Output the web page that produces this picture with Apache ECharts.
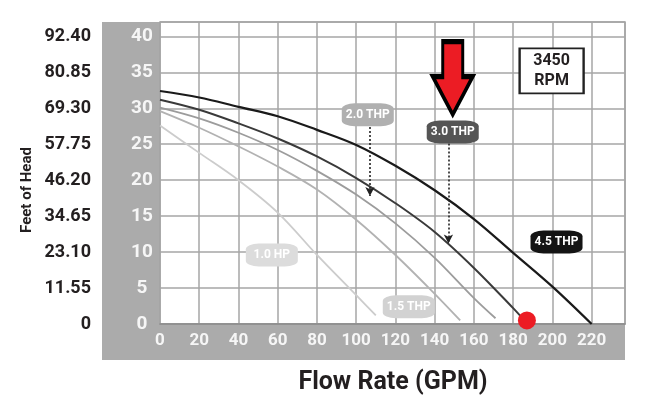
<!DOCTYPE html>
<html>
<head>
<meta charset="utf-8">
<script src="https://cdn.jsdelivr.net/npm/echarts@6/dist/echarts.min.js"></script>
<style>
html, body { margin: 0; padding: 0; background: #fff; }
#chart { width: 665px; height: 407px; }
</style>
</head>
<body>
<div id="chart"></div>
<script>
// pump curves, flow (GPM) vs feet of head
const flow45 = [0, 20, 40, 60, 80, 100, 120, 140, 160, 180, 200, 220]
const head45 = [32.4, 31.5, 30.2, 28.9, 27.0, 24.9, 22.0, 18.6, 14.6, 9.9, 5.2, 0]
const flow30 = [0, 20, 40, 60, 80, 100, 120, 140, 160, 180, 186]
const head30 = [31.2, 29.8, 27.9, 25.8, 23.3, 20.3, 16.8, 12.8, 7.8, 2.2, 0.4]
const flow20 = [0, 20, 40, 60, 80, 100, 120, 140, 160, 171]
const head20 = [30.1, 28.6, 26.6, 24.2, 21.3, 18.0, 14.0, 9.2, 3.6, 0.8]
const flow15 = [0, 20, 40, 60, 80, 100, 120, 140, 153]
const head15 = [29.6, 27.3, 24.7, 21.9, 18.7, 14.5, 9.6, 4.2, 0.5]
const flow10 = [0, 20, 40, 60, 80, 100, 110]
const head10 = [27.6, 23.8, 20.0, 15.5, 9.6, 4.0, 1.2]

const flowTicks = ['0', '20', '40', '60', '80', '100', '120', '140', '160', '180', '200', '220']
const headTicks = ['0', '5', '10', '15', '20', '25', '30', '35', '40']
const otherTicks = ['0', '11.55', '23.10', '34.65', '46.20', '57.75', '69.30', '80.85', '92.40']

const curveNames = ['1.0 HP', '1.5 THP', '2.0 THP', '3.0 THP', '4.5 THP']
const operatingPoint = [187, 0.5]

const font = "Roboto, 'Liberation Sans', sans-serif"

function pairs(xs, ys) {
    return xs.map((x, i) => [x, ys[i]])
}

function badge(coord, text, bg) {
    return {
        coord: coord,
        symbol: 'roundRect',
        symbolSize: [52, 23],
        itemStyle: { color: bg },
        label: {
            show: true,
            position: 'inside',
            formatter: text,
            color: '#fff',
            fontFamily: font,
            fontWeight: 'bold',
            fontSize: 12
        }
    }
}

function curve(name, data, color, width, extra) {
    return Object.assign({
        name: name,
        type: 'line',
        smooth: 0.35,
        showSymbol: false,
        silent: true,
        lineStyle: { color: color, width: width },
        data: data
    }, extra || {})
}

const chart = echarts.init(document.getElementById('chart'))
const dotted = { type: [2, 2], color: '#222', width: 1.6 }

chart.setOption({
    animation: false,
    backgroundColor: '#fff',
    graphic: [
        {
            type: 'rect', z: -10,
            shape: { x: 102, y: 22, width: 523, height: 338 },
            style: { fill: '#ababab' }
        },
        {
            type: 'text', x: 27, y: 190, rotation: Math.PI / 2,
            style: {
                text: 'Feet of Head', fill: '#231f20', font: 'bold 15px ' + font,
                align: 'center', verticalAlign: 'middle'
            }
        },
        {
            type: 'text', x: 393, y: 383,
            style: {
                text: 'Flow Rate (GPM)', fill: '#231f20', font: 'bold 25px ' + font,
                align: 'center', verticalAlign: 'middle'
            }
        }
    ],
    grid: {
        left: 160, top: 22, right: 40, bottom: 83,
        show: true, backgroundColor: '#fff', borderColor: '#a0a0a0', borderWidth: 1.5
    },
    xAxis: {
        type: 'value', min: 0, max: 237, interval: 20,
        axisLine: { show: true, lineStyle: { color: '#8a8a8a', width: 1.5 } },
        axisTick: { show: false },
        splitLine: { lineStyle: { color: '#a6a6a6', width: 1.5 } },
        axisLabel: {
            showMaxLabel: false, margin: 8,
            color: '#f6f6f6', fontFamily: font, fontWeight: 'bold', fontSize: 17,
            formatter: v => flowTicks[v / 20] ?? ''
        }
    },
    yAxis: [
        {
            type: 'value', min: 0, max: 42, interval: 5,
            axisLine: { show: false },
            axisTick: { show: false },
            splitLine: { lineStyle: { color: '#a6a6a6', width: 1.5 } },
            axisLabel: {
                showMaxLabel: false, margin: 18, align: 'center',
                color: '#f6f6f6', fontFamily: font, fontWeight: 'bold', fontSize: 19,
                formatter: v => headTicks[v / 5] ?? ''
            }
        },
        {
            type: 'value', min: 0, max: 42, interval: 5, position: 'left', offset: 69,
            axisLine: { show: false },
            axisTick: { show: false },
            splitLine: { show: false },
            axisLabel: {
                showMaxLabel: false, margin: 0,
                color: '#231f20', fontFamily: font, fontWeight: 'bold', fontSize: 18,
                formatter: v => otherTicks[v / 5] ?? ''
            }
        }
    ],
    series: [
        curve(curveNames[0], pairs(flow10, head10), '#cccccc', 1.8, {
            markPoint: { silent: true, data: [badge([57, 9.6], curveNames[0], '#dcdcdc')] }
        }),
        curve(curveNames[1], pairs(flow15, head15), '#b2b2b2', 1.8, {
            markPoint: { silent: true, data: [badge([126.8, 2.4], curveNames[1], '#d2d2d2')] }
        }),
        curve(curveNames[2], pairs(flow20, head20), '#9c9c9c', 1.8, {
            markPoint: { silent: true, data: [badge([105.9, 29.1], curveNames[2], '#b0b0b0')] },
            markLine: {
                silent: true, symbol: ['none', 'arrow'], symbolSize: [7, 9],
                label: { show: false }, lineStyle: dotted,
                data: [[{ coord: [107, 27.4] }, { coord: [107, 17.8] }]]
            }
        }),
        curve(curveNames[3], pairs(flow30, head30), '#3a3a3a', 2, {
            markPoint: { silent: true, data: [badge([149.2, 26.7], curveNames[3], '#555555')] },
            markLine: {
                silent: true, symbol: ['none', 'arrow'], symbolSize: [7, 9],
                label: { show: false }, lineStyle: dotted,
                data: [[{ coord: [147, 25.1] }, { coord: [147, 11.2] }]]
            }
        }),
        curve(curveNames[4], pairs(flow45, head45), '#1a1a1a', 2.2, {
            markPoint: {
                silent: true,
                data: [
                    badge([202.1, 11.4], curveNames[4], '#141414'),
                    {
                        coord: [199.6, 35.2],
                        symbol: 'rect', symbolSize: [64, 45],
                        itemStyle: { color: '#fff', borderColor: '#222', borderWidth: 2 },
                        label: {
                            show: true, position: 'inside', formatter: '3450\nRPM',
                            color: '#231f20', fontFamily: font, fontWeight: 'bold',
                            fontSize: 16, lineHeight: 20
                        }
                    },
                    {
                        coord: [149.2, 34.2],
                        symbol: 'path://M10 0 L30 0 L30 35 L40 35 L20 73 L0 35 L10 35 Z',
                        symbolSize: [40, 73],
                        itemStyle: { color: '#ec1c24', borderColor: '#000', borderWidth: 4 },
                        label: { show: false }
                    },
                    {
                        coord: operatingPoint,
                        symbol: 'circle', symbolSize: 18,
                        itemStyle: { color: '#ec1c24' },
                        label: { show: false }
                    }
                ]
            }
        })
    ]
})
</script>
</body>
</html>
